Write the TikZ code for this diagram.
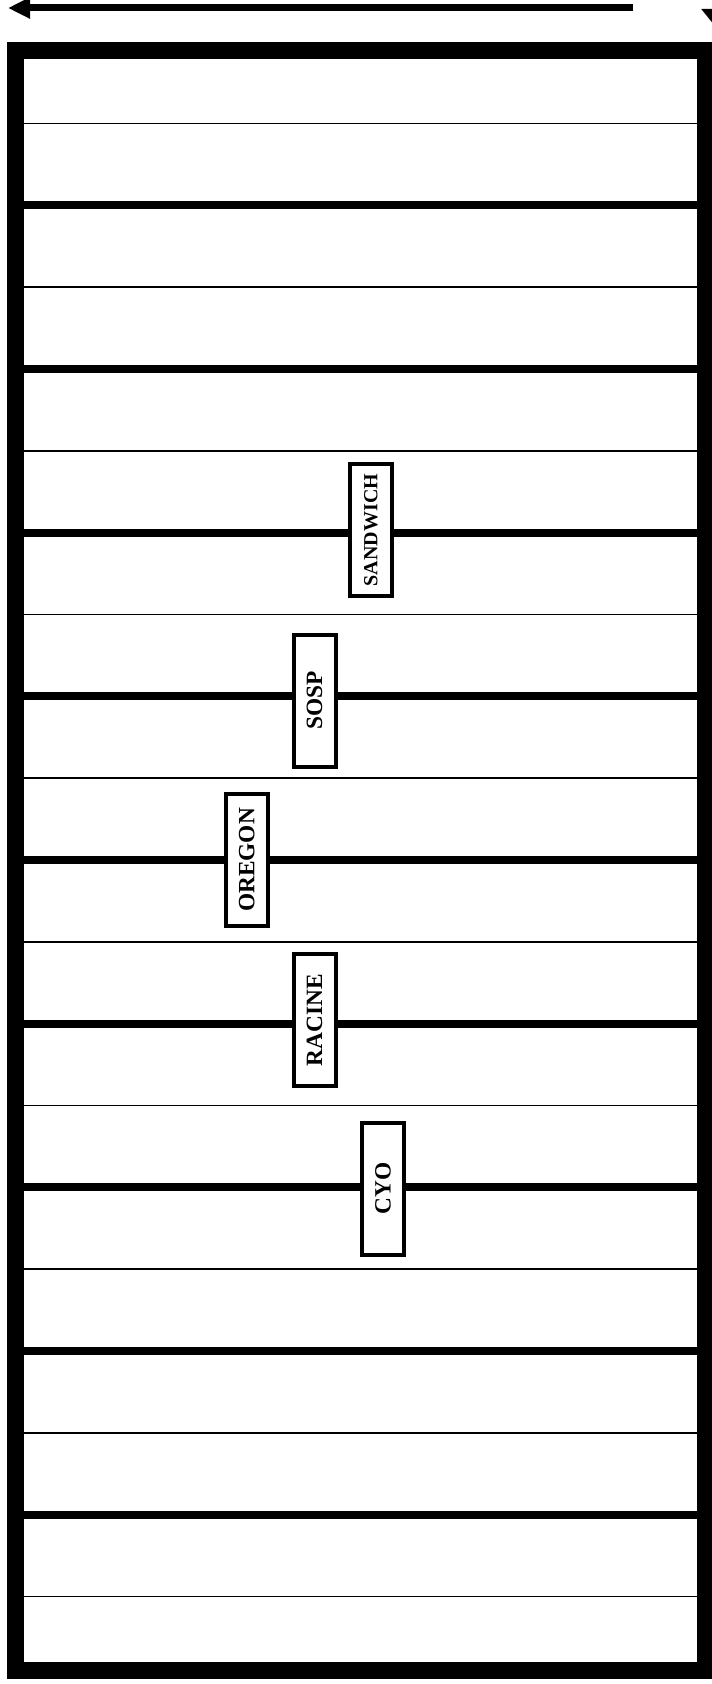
\documentclass[tikz,border=0pt]{standalone}
\usepackage{fontspec}
\setmainfont{Liberation Serif}
\usetikzlibrary{arrows.meta}

\begin{document}
\begin{tikzpicture}[x=0.75pt,y=-0.75pt,font=\bfseries\fontsize{17.5}{20}\selectfont,
 frame/.style={line width=12.75pt},
 major/.style={line width=6pt},
 minor/.style={line width=1.1pt},
 tag/.style={draw,line width=3pt,fill=white,rotate=90,inner sep=0pt,minimum width=99pt,minimum height=31.5pt,align=center},
 bigarrow/.style={line width=5.25pt,-{Triangle[length=16.5pt,width=15pt]}}]
\useasboundingbox (0,0) rectangle (712,1684);
% arrows along the top
\coordinate (a0) at (633,8);
\coordinate (a1) at (8,8);
\draw[bigarrow] (a0) -- (a1);
\coordinate (b0) at (718,-40);
\coordinate (b1) at (718,30);
\draw[line width=5.25pt,-{Triangle[length=15.75pt,width=24pt]}] (b0) -- (b1);
% rows
\foreach \k in {0,...,18}{
 \pgfmathsetmacro{\yy}{123.5+81.83*\k}
 \ifodd\k
  \draw[major] (15,\yy) -- (706,\yy);
 \else
  \draw[minor] (15,\yy) -- (706,\yy);
 \fi
}
\draw[frame] (15.5,50.5) rectangle (705.5,1670);
% labels
\node[tag,font=\bfseries\fontsize{15}{18}\selectfont] (sandwich) at (371,530) {SANDWICH};
\node[tag] (sosp) at (314.5,700.5) {SOSP};
\node[tag] (oregon) at (246.7,860) {OREGON};
\node[tag] (racine) at (314.5,1020) {RACINE};
\node[tag] (cyo) at (383,1188.7) {CYO};
\end{tikzpicture}
\end{document}
